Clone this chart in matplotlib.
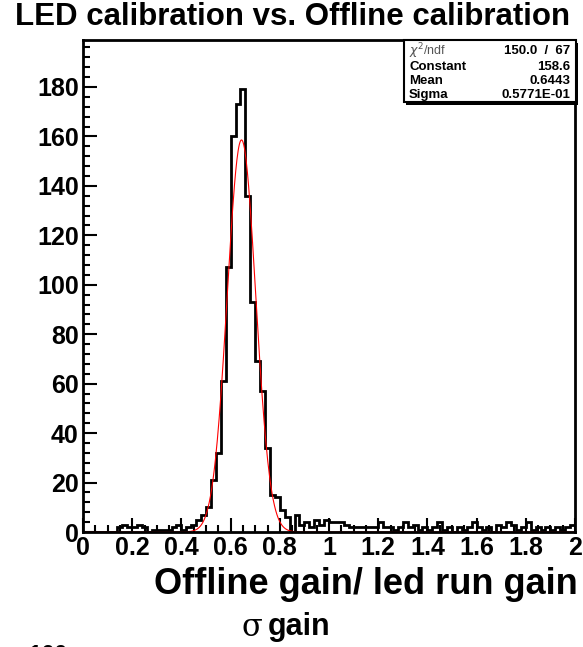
import numpy as np
import matplotlib.pyplot as plt
from matplotlib.patches import Rectangle

plt.rcParams['font.family'] = ['Liberation Sans', 'DejaVu Sans']

# histogram: 100 bins from 0 to 2
bin_edges = np.linspace(0, 2, 101)
counts = [
    0, 0, 0, 0, 0, 0, 0, 2, 3, 2,
    2, 3, 2, 0, 1, 1, 1, 1, 2, 3,
    1, 2, 3, 5, 7, 10, 21, 32, 61, 107,
    160, 173, 179, 136, 93, 69, 57, 34, 15, 14,
    9, 6, 0, 7, 3, 4, 2, 5, 3, 5,
    4, 4, 4, 3, 2, 2, 2, 2, 2, 2,
    4, 2, 2, 1, 2, 4, 2, 3, 1, 2,
    1, 2, 4, 1, 2, 0, 2, 1, 2, 4,
    2, 1, 2, 0, 3, 2, 4, 3, 1, 2,
    4, 1, 2, 1, 2, 1, 2, 1, 2, 3,
]

# gaussian fit parameters from the stats box
fit_const = 158.6
fit_mean = 0.6443
fit_sigma = 0.5771e-01
chi2, ndf = 150.0, 67

W, H = 583, 647
fig = plt.figure(figsize=(W / 100, H / 100), dpi=100)


def fx(px):
    return px / W


def fy(py):
    return 1 - py / H


ax = fig.add_axes([fx(83), fy(532), fx(575) - fx(83), fy(40) - fy(532)])

ax.stairs(counts, bin_edges, color='black', linewidth=2.0, baseline=0)
xf = np.linspace(0, 2, 800)
ax.plot(xf, fit_const * np.exp(-0.5 * ((xf - fit_mean) / fit_sigma) ** 2),
        color='red', linewidth=0.8)

ax.set_xlim(0, 2)
ax.set_ylim(0, 199)
ax.set_xticks(np.arange(0, 2.01, 0.2))
ax.set_xticks(np.arange(0, 2.01, 0.05), minor=True)
ax.set_xticklabels(['0', '0.2', '0.4', '0.6', '0.8', '1', '1.2', '1.4', '1.6', '1.8', '2'])
ax.set_yticks(np.arange(0, 181, 20))
ax.set_yticks(np.arange(0, 199, 4), minor=True)
ax.tick_params(which='both', direction='in', top=False, right=False, width=1.5)
ax.tick_params(which='major', length=10, labelsize=18, pad=3)
ax.tick_params(which='minor', length=5)
for lab in ax.get_xticklabels() + ax.get_yticklabels():
    lab.set_fontweight('bold')
for sp in ax.spines.values():
    sp.set_linewidth(2)

fig.text(0.502, fy(17), 'LED calibration vs. Offline calibration',
         ha='center', va='center', fontsize=22.5, fontweight='bold')
fig.text(fx(578), fy(585), 'Offline gain/ led run gain',
         ha='right', va='center', fontsize=26, fontweight='bold')
fig.text(fx(262), fy(627), '\u03c3', ha='right', va='center',
         fontsize=22, family='DejaVu Serif')
fig.text(fx(268), fy(627), 'gain', ha='left', va='center',
         fontsize=22, fontweight='bold')
fig.text(fx(28), fy(655), '160', ha='left', va='center', fontsize=17,
         fontweight='bold')

# stats box
bx0, bx1, by0, by1 = 404, 576, 40, 102
fig.patches.append(Rectangle((fx(bx0) + 0.004, fy(by1) - 0.004), fx(bx1) - fx(bx0), fy(by0) - fy(by1),
                             transform=fig.transFigure, facecolor='black', zorder=5))
fig.patches.append(Rectangle((fx(bx0), fy(by1)), fx(bx1) - fx(bx0), fy(by0) - fy(by1),
                             transform=fig.transFigure, facecolor='white',
                             edgecolor='black', linewidth=1.5, zorder=6))
rows = [('Constant', f'{fit_const:.1f}'), ('Mean', f'{fit_mean:.4f}'),
        ('Sigma', '0.5771E-01')]
row_y = [51, 67, 81, 95]
fig.text(fx(bx0 + 5), fy(row_y[0]), r'$\chi^2$/ndf', ha='left', va='center',
         fontsize=9, color='#555555', zorder=7)
fig.text(fx(bx1 - 6), fy(row_y[0]), f'{chi2:.1f}  /  {ndf}', ha='right', va='center',
         fontsize=9.5, fontweight='bold', zorder=7)
for (name, val), yy in zip(rows, row_y[1:]):
    fig.text(fx(bx0 + 5), fy(yy), name, ha='left', va='center', fontsize=9.5,
             fontweight='bold', zorder=7)
    fig.text(fx(bx1 - 6), fy(yy), val, ha='right', va='center', fontsize=9.5,
             fontweight='bold', zorder=7)

fig.savefig('out.png', dpi=100)
